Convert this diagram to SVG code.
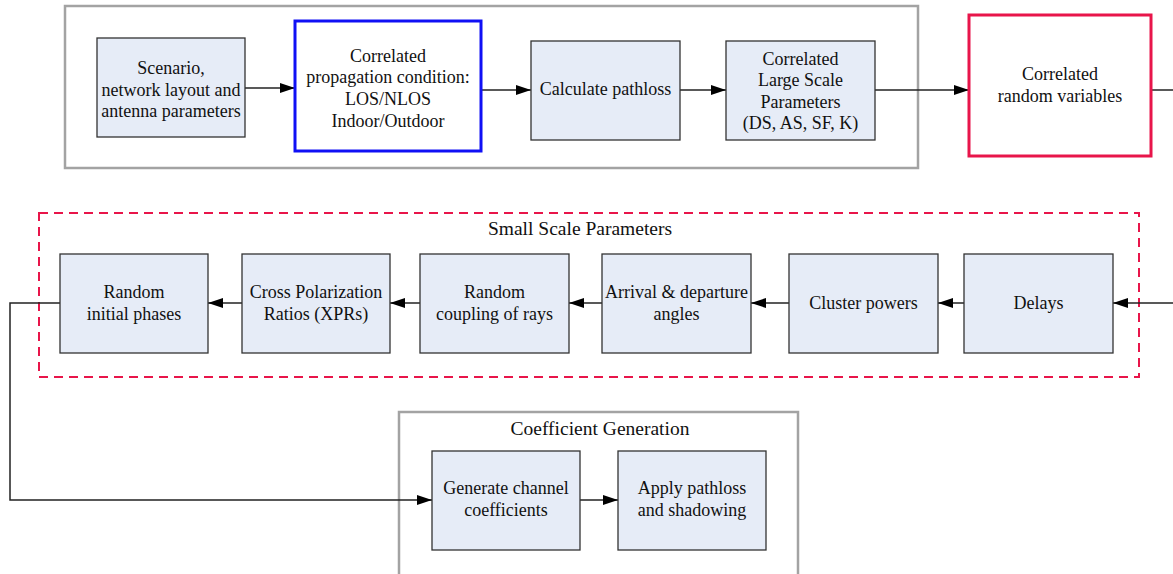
<svg xmlns="http://www.w3.org/2000/svg" width="1173" height="574" viewBox="0 0 1173 574" font-family="'Liberation Serif', Tinos, 'DejaVu Serif', serif">
  <style>
    text { font-family: 'Liberation Serif', Tinos, 'DejaVu Serif', serif; font-size: 18px; fill: #111; text-anchor: middle; }
    .title { font-size: 19.5px; }
    .box { fill: #E6ECF7; stroke: #333; stroke-width: 1.3; }
    .frame { fill: none; stroke: #A3A3A3; stroke-width: 2.5; }
    .conn { fill: none; stroke: #222; stroke-width: 1.5; }
  </style>
  <defs>
    <marker id="arrow" markerUnits="userSpaceOnUse" markerWidth="15" markerHeight="10" refX="15" refY="5" orient="auto">
      <path d="M0,0 L15,5 L0,10 z" fill="#000"/>
    </marker>
  </defs>

  <rect width="1173" height="574" fill="#fff"/>

  <!-- Large scale stage frame -->
  <rect id="large-scale-frame" class="frame" x="65" y="6" width="853" height="162"/>

  <!-- Small scale parameters frame -->
  <g id="small-scale-frame">
    <rect x="39" y="213" width="1100" height="164" fill="none" stroke="#E8154A" stroke-width="2" stroke-dasharray="9,6"/>
    <text class="title" x="580" y="235">Small Scale Parameters</text>
  </g>

  <!-- Coefficient generation frame -->
  <g id="coefficient-frame">
    <rect class="frame" x="399" y="412" width="399" height="175"/>
    <text class="title" x="600" y="435">Coefficient Generation</text>
  </g>

  <!-- Connectors -->
  <g id="connectors" class="conn" marker-end="url(#arrow)">
    <line x1="245" y1="88" x2="295" y2="88"/>
    <line x1="481" y1="90" x2="531" y2="90"/>
    <line x1="680" y1="90" x2="726" y2="90"/>
    <line x1="875" y1="90" x2="969" y2="90"/>
    <line x1="1151" y1="90" x2="1175" y2="90" marker-end="none"/>
    <line x1="1175" y1="303" x2="1113" y2="303"/>
    <line x1="964" y1="303" x2="938" y2="303"/>
    <line x1="789" y1="303" x2="751" y2="303"/>
    <line x1="602" y1="303" x2="569" y2="303"/>
    <line x1="420" y1="303" x2="390" y2="303"/>
    <line x1="242" y1="303" x2="208" y2="303"/>
    <path d="M60,303 H10 V500 H432"/>
    <line x1="580" y1="500" x2="618" y2="500"/>
  </g>

  <!-- Top row nodes -->
  <g id="scenario">
    <rect class="box" x="97" y="38" width="148" height="99"/>
    <text x="171" y="74">Scenario,</text>
    <text x="171" y="95.5">network layout and</text>
    <text x="171" y="117">antenna parameters</text>
  </g>
  <g id="propagation-condition">
    <rect x="295" y="21" width="186" height="130" fill="#fff" stroke="#1010F5" stroke-width="3"/>
    <text x="388" y="61.5">Correlated</text>
    <text x="388" y="83.3">propagation condition:</text>
    <text x="388" y="105">LOS/NLOS</text>
    <text x="388" y="126.8">Indoor/Outdoor</text>
  </g>
  <g id="pathloss">
    <rect class="box" x="531" y="41" width="149" height="99"/>
    <text x="605.5" y="94.5">Calculate pathloss</text>
  </g>
  <g id="large-scale-parameters">
    <rect class="box" x="726" y="41" width="149" height="99"/>
    <text x="800.5" y="64.5">Correlated</text>
    <text x="800.5" y="86">Large Scale</text>
    <text x="800.5" y="107.5">Parameters</text>
    <text x="800.5" y="129">(DS, AS, SF, K)</text>
  </g>
  <g id="random-variables">
    <rect x="969" y="15" width="182" height="141" fill="#fff" stroke="#E8154A" stroke-width="3"/>
    <text x="1060" y="80">Correlated</text>
    <text x="1060" y="101.7">random variables</text>
  </g>

  <!-- Small scale nodes -->
  <g id="initial-phases">
    <rect class="box" x="60" y="254" width="148" height="99"/>
    <text x="134" y="298.3">Random</text>
    <text x="134" y="320">initial phases</text>
  </g>
  <g id="xpr">
    <rect class="box" x="242" y="254" width="148" height="99"/>
    <text x="316" y="298.3">Cross Polarization</text>
    <text x="316" y="320">Ratios (XPRs)</text>
  </g>
  <g id="ray-coupling">
    <rect class="box" x="420" y="254" width="149" height="99"/>
    <text x="494.5" y="298.3">Random</text>
    <text x="494.5" y="320">coupling of rays</text>
  </g>
  <g id="angles">
    <rect class="box" x="602" y="254" width="149" height="99"/>
    <text x="676.5" y="298.3">Arrival &amp; departure</text>
    <text x="676.5" y="320">angles</text>
  </g>
  <g id="cluster-powers">
    <rect class="box" x="789" y="254" width="149" height="99"/>
    <text x="863.5" y="309">Cluster powers</text>
  </g>
  <g id="delays">
    <rect class="box" x="964" y="254" width="149" height="99"/>
    <text x="1038.5" y="309">Delays</text>
  </g>

  <!-- Coefficient nodes -->
  <g id="channel-coefficients">
    <rect class="box" x="432" y="451" width="148" height="99"/>
    <text x="506" y="494">Generate channel</text>
    <text x="506" y="516">coefficients</text>
  </g>
  <g id="pathloss-shadowing">
    <rect class="box" x="618" y="451" width="148" height="99"/>
    <text x="692" y="494">Apply pathloss</text>
    <text x="692" y="516">and shadowing</text>
  </g>
</svg>
